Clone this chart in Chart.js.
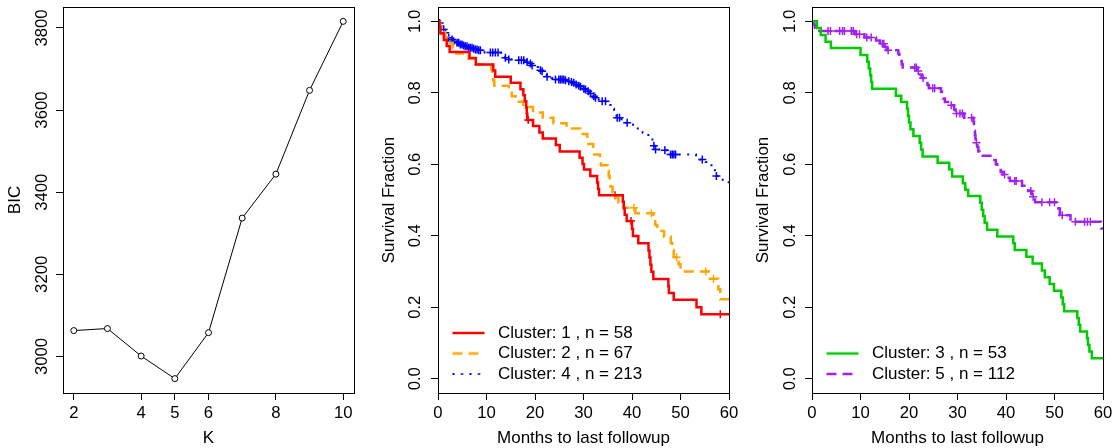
<!DOCTYPE html>
<html lang="en">

<head>
    <meta charset="UTF-8">
    <title>BIC and survival by cluster</title>
    <script src="https://cdn.jsdelivr.net/npm/chart.js"></script>
    <style>
        body { margin: 0; width: 1118px; height: 448px; overflow: hidden; background: #fff; position: relative; }
        canvas { position: absolute; top: 0; }
    </style>
</head>

<body>
    <canvas id="bicChart" width="372" height="460" style="left:0px"></canvas>
    <canvas id="survChartA" width="372" height="460" style="left:372px"></canvas>
    <canvas id="survChartB" width="374" height="460" style="left:744px"></canvas>
    <script>
        // panel 1: BIC for each number of clusters
        const kValues = [2, 3, 4, 5, 6, 7, 8, 9, 10];
        const bicValues = [3063, 3068, 3001, 2946, 3058, 3337, 3444, 3648, 3816];
        const kTicks = [2, 4, 5, 6, 8, 10];
        const bicTicks = [3000, 3200, 3400, 3600, 3800];

        // survival curves: month of each drop and the fraction after it
        const c1Time = [0, 0.3, 0.5, 1.2, 1.8, 2.4, 6.5, 7.8, 11.4, 11.8, 15.0, 17.0, 17.6, 17.9, 18.2, 18.3, 18.4, 19.6, 20.9, 21.6, 24.3, 25.1, 29.2, 29.8, 30.1, 31.4, 32.8, 33.0, 33.2, 38.1, 38.3, 38.5, 38.9, 40.0, 40.2, 41.3, 43.4, 43.6, 43.8, 44.0, 44.4, 47.5, 47.6, 48.6, 53.3, 54.3, 60];
        const c1Surv = [1, 0.983, 0.966, 0.948, 0.931, 0.914, 0.897, 0.879, 0.862, 0.845, 0.828, 0.810, 0.793, 0.776, 0.759, 0.741, 0.724, 0.707, 0.689, 0.672, 0.654, 0.636, 0.618, 0.601, 0.585, 0.567, 0.549, 0.531, 0.513, 0.495, 0.477, 0.459, 0.441, 0.419, 0.399, 0.379, 0.359, 0.339, 0.319, 0.299, 0.279, 0.259, 0.240, 0.221, 0.200, 0.180, 0.180];
        const c1CensTime = [18.6, 36.5, 39.8, 58.2];
        const c1CensSurv = [0.724, 0.513, 0.441, 0.180];

        const c2Time = [0, 0.4, 0.8, 1.5, 2.0, 3.0, 3.8, 6.3, 7.7, 11.0, 11.2, 11.4, 11.6, 14.6, 15.2, 16.0, 17.6, 19.6, 21.6, 23.8, 26.5, 29.3, 30.8, 31.0, 32.0, 32.2, 33.4, 33.6, 35.0, 35.2, 35.4, 35.6, 36.0, 36.6, 37.2, 38.3, 40.7, 44.4, 44.8, 45.2, 46.6, 48.0, 48.3, 48.6, 49.6, 50.0, 55.8, 57.8, 58.2, 60];
        const c2Surv = [1, 0.985, 0.970, 0.955, 0.940, 0.925, 0.910, 0.895, 0.880, 0.865, 0.850, 0.835, 0.820, 0.805, 0.790, 0.775, 0.760, 0.745, 0.730, 0.715, 0.700, 0.685, 0.671, 0.657, 0.642, 0.627, 0.612, 0.597, 0.582, 0.567, 0.552, 0.537, 0.522, 0.507, 0.492, 0.478, 0.463, 0.446, 0.430, 0.413, 0.397, 0.380, 0.360, 0.340, 0.320, 0.300, 0.280, 0.250, 0.222, 0.222];
        const c2CensTime = [40.4, 44.0, 49.2, 55.2, 56.8];
        const c2CensSurv = [0.478, 0.463, 0.340, 0.300, 0.280];

        const c4Time = [0, 0.2, 0.7, 1.0, 1.3, 1.4, 1.8, 2.0, 2.1, 2.6, 3.1, 3.6, 4.4, 5.1, 5.5, 6.2, 7.2, 7.5, 8.2, 9.6, 13.0, 13.6, 13.8, 14.3, 15.8, 18.0, 18.8, 19.3, 20.0, 20.6, 21.0, 21.3, 21.8, 22.2, 22.4, 23.4, 24.0, 26.1, 26.6, 27.3, 27.8, 28.3, 28.8, 29.2, 29.7, 29.9, 30.3, 30.7, 31.2, 31.8, 32.0, 32.3, 32.8, 33.4, 34.8, 35.2, 35.6, 36.0, 36.3, 36.6, 36.8, 36.9, 37.8, 38.4, 38.8, 39.6, 40.2, 40.8, 41.4, 42.2, 43.0, 43.6, 44.2, 44.4, 44.7, 44.8, 46.5, 47.6, 47.8, 53.2, 54.0, 55.2, 55.7, 56.6, 57.1, 57.3, 58.0, 59.2, 60];
        const c4Surv = [1, 0.995, 0.986, 0.977, 0.972, 0.968, 0.963, 0.958, 0.954, 0.949, 0.944, 0.940, 0.935, 0.932, 0.930, 0.926, 0.923, 0.921, 0.919, 0.913, 0.908, 0.903, 0.898, 0.893, 0.891, 0.886, 0.882, 0.876, 0.872, 0.867, 0.863, 0.860, 0.855, 0.850, 0.845, 0.841, 0.837, 0.835, 0.832, 0.830, 0.828, 0.823, 0.820, 0.817, 0.814, 0.811, 0.809, 0.804, 0.798, 0.794, 0.790, 0.786, 0.781, 0.776, 0.771, 0.766, 0.760, 0.755, 0.749, 0.742, 0.736, 0.730, 0.726, 0.721, 0.716, 0.711, 0.705, 0.700, 0.694, 0.688, 0.682, 0.676, 0.664, 0.652, 0.646, 0.641, 0.639, 0.633, 0.627, 0.620, 0.613, 0.606, 0.597, 0.587, 0.577, 0.567, 0.557, 0.550, 0.550];
        const c4CensTime = [0.34, 1.17, 1.51, 2.20, 2.89, 3.23, 3.92, 4.27, 4.61, 4.95, 5.30, 5.64, 5.99, 6.33, 6.67, 7.02, 7.36, 7.71, 8.05, 8.39, 8.74, 10.80, 11.28, 11.83, 12.38, 13.90, 14.59, 16.65, 17.20, 17.68, 18.37, 19.06, 19.40, 21.12, 21.47, 22.50, 24.22, 24.91, 25.25, 25.59, 25.94, 26.28, 26.97, 27.52, 28.00, 28.48, 29.03, 29.38, 30.07, 30.41, 30.96, 31.44, 32.13, 32.47, 33.85, 34.54, 36.95, 37.43, 39.01, 44.51, 44.86, 46.78, 47.95, 48.30, 48.64, 48.98, 54.49, 57.40];
        const c4CensSurv = [0.995, 0.977, 0.968, 0.954, 0.949, 0.944, 0.940, 0.940, 0.935, 0.935, 0.932, 0.930, 0.930, 0.926, 0.926, 0.926, 0.923, 0.921, 0.921, 0.919, 0.919, 0.913, 0.913, 0.913, 0.913, 0.898, 0.893, 0.891, 0.891, 0.891, 0.886, 0.882, 0.876, 0.863, 0.860, 0.845, 0.837, 0.837, 0.837, 0.837, 0.837, 0.835, 0.832, 0.830, 0.828, 0.823, 0.820, 0.817, 0.811, 0.809, 0.804, 0.798, 0.790, 0.786, 0.776, 0.776, 0.730, 0.730, 0.716, 0.652, 0.641, 0.639, 0.627, 0.627, 0.627, 0.627, 0.613, 0.567];

        const c3Time = [0, 1.0, 1.8, 2.8, 3.9, 10.0, 11.4, 11.7, 12.0, 12.2, 12.4, 17.3, 18.4, 19.6, 19.8, 20.0, 20.3, 20.9, 22.2, 22.5, 22.8, 25.9, 28.3, 28.9, 31.1, 31.6, 32.2, 34.7, 35.0, 35.3, 35.6, 36.1, 38.2, 41.5, 41.8, 44.2, 45.5, 47.4, 48.0, 49.0, 49.9, 51.4, 51.7, 52.0, 54.7, 55.0, 55.3, 56.7, 56.9, 57.2, 57.7, 60];
        const c3Surv = [1, 0.981, 0.962, 0.943, 0.925, 0.906, 0.887, 0.868, 0.849, 0.830, 0.811, 0.792, 0.774, 0.755, 0.736, 0.717, 0.698, 0.679, 0.660, 0.641, 0.622, 0.604, 0.585, 0.566, 0.547, 0.529, 0.511, 0.492, 0.473, 0.455, 0.436, 0.417, 0.398, 0.379, 0.360, 0.341, 0.322, 0.303, 0.284, 0.265, 0.246, 0.227, 0.208, 0.189, 0.170, 0.151, 0.132, 0.113, 0.094, 0.076, 0.057, 0.057];
        const c3CensTime = [];
        const c3CensSurv = [];

        const c5Time = [0, 0.3, 0.6, 1.5, 8.9, 10.8, 13.2, 14.0, 15.0, 15.4, 17.8, 18.0, 18.2, 18.5, 18.7, 21.7, 22.3, 22.6, 23.4, 23.8, 24.1, 26.6, 26.8, 27.0, 27.4, 28.3, 29.3, 29.6, 31.4, 33.3, 33.4, 33.5, 33.6, 33.7, 33.8, 34.1, 34.3, 34.6, 37.6, 37.9, 38.2, 38.9, 39.3, 40.3, 40.8, 43.3, 44.6, 45.3, 46.0, 50.8, 51.1, 53.3, 59.6, 60];
        const c5Surv = [1, 0.991, 0.982, 0.973, 0.964, 0.955, 0.946, 0.937, 0.928, 0.919, 0.909, 0.899, 0.889, 0.880, 0.871, 0.861, 0.851, 0.841, 0.832, 0.822, 0.813, 0.803, 0.793, 0.784, 0.774, 0.765, 0.753, 0.742, 0.730, 0.718, 0.706, 0.694, 0.682, 0.670, 0.660, 0.648, 0.636, 0.624, 0.612, 0.600, 0.588, 0.579, 0.571, 0.562, 0.553, 0.540, 0.525, 0.509, 0.494, 0.476, 0.457, 0.439, 0.420, 0.420];
        const c5CensTime = [3.3, 3.8, 5.7, 6.3, 6.7, 8.1, 8.5, 9.2, 9.8, 11.3, 12.2, 14.5, 14.8, 15.7, 21.2, 21.5, 21.9, 22.9, 24.9, 25.3, 28.7, 29.8, 30.5, 31.0, 32.9, 33.9, 39.7, 41.8, 42.1, 45.1, 45.6, 47.4, 49.0, 50.0, 51.6, 54.3, 56.2, 56.8, 57.4];
        const c5CensSurv = [0.973, 0.973, 0.973, 0.973, 0.973, 0.973, 0.973, 0.964, 0.964, 0.955, 0.955, 0.937, 0.937, 0.919, 0.871, 0.871, 0.861, 0.841, 0.813, 0.813, 0.765, 0.742, 0.742, 0.742, 0.730, 0.660, 0.571, 0.553, 0.553, 0.525, 0.509, 0.494, 0.494, 0.494, 0.457, 0.439, 0.439, 0.439, 0.439];

        const monthTicks = [0, 10, 20, 30, 40, 50, 60];
        const survTicks = [0, 0.2, 0.4, 0.6, 0.8, 1];

        Chart.defaults.font.family = "'Liberation Sans', Arial, sans-serif";
        Chart.defaults.color = '#000';

        const pts = (xs, ys) => xs.map((x, i) => ({ x: x, y: ys[i] }));

        // R-style box round the plot region
        const boxPlugin = {
            id: 'plotBox',
            afterDraw(chart) {
                const { ctx, chartArea: a } = chart;
                const l = Math.round(a.left) + 0.5, t = Math.round(a.top) + 0.5;
                const r = Math.round(a.right) + 0.5, b = Math.round(a.bottom) + 0.5;
                ctx.save();
                ctx.strokeStyle = '#000';
                ctx.lineWidth = 1;
                ctx.strokeRect(l, t, r - l, b - t);
                ctx.restore();
            }
        };

        // axis boxes get a fixed size so the plot regions line up
        function fixSize(size) {
            return function (scale) {
                if (scale.isHorizontal()) scale.height = size; else scale.width = size;
                scale.paddingTop = scale.paddingBottom = scale.paddingLeft = scale.paddingRight = 0;
            };
        }

        function xAxis(min, max, ticks, title) {
            return {
                type: 'linear', min: min, max: max,
                afterBuildTicks: s => { s.ticks = ticks.map(v => ({ value: v })); },
                afterFit: fixSize(67),
                border: { display: false },
                grid: { drawOnChartArea: false, drawTicks: true, tickLength: 7, color: '#000', lineWidth: 1 },
                ticks: { padding: 3, font: { size: 16.7 }, color: '#000', maxRotation: 0, autoSkip: false, callback: v => String(v) },
                title: { display: true, text: title, font: { size: 17 }, color: '#000', padding: { top: 0, bottom: 11.3 } }
            };
        }

        function yAxis(min, max, ticks, fmt, title, width, tickPad, titlePad) {
            return {
                type: 'linear', min: min, max: max,
                afterBuildTicks: s => { s.ticks = ticks.map(v => ({ value: v })); },
                afterFit: fixSize(width),
                border: { display: false },
                grid: { drawOnChartArea: false, drawTicks: true, tickLength: 7, color: '#000', lineWidth: 1 },
                ticks: { padding: tickPad, font: { size: 16.7 }, color: '#000', minRotation: 90, maxRotation: 90, crossAlign: 'center', autoSkip: false, callback: fmt },
                title: { display: true, text: title, font: { size: 17 }, color: '#000', padding: { top: titlePad, bottom: 0 } }
            };
        }

        function legendSample(color, dash, width) {
            const c = document.createElement('canvas');
            c.width = 48;
            c.height = 6;
            const g = c.getContext('2d');
            g.strokeStyle = color;
            g.lineWidth = width;
            g.setLineDash(dash);
            g.beginPath();
            g.moveTo(11, 3);
            g.lineTo(43, 3);
            g.stroke();
            return c;
        }

        const baseOptions = {
            responsive: false,
            animation: false,
            devicePixelRatio: 1,
            events: []
        };

        new Chart(document.getElementById('bicChart'), {
            type: 'line',
            data: {
                datasets: [{
                    label: 'BIC',
                    data: pts(kValues, bicValues),
                    borderColor: '#000',
                    borderWidth: 1,
                    pointStyle: 'circle',
                    pointRadius: 3,
                    pointBorderWidth: 1,
                    pointBorderColor: '#000',
                    pointBackgroundColor: '#fff'
                }]
            },
            options: Object.assign({}, baseOptions, {
                layout: { padding: { left: 0, top: 7, right: 18, bottom: 0 } },
                scales: {
                    x: xAxis(1.68, 10.32, kTicks, 'K'),
                    y: yAxis(2911, 3851, bicTicks, v => String(v), 'BIC', 63, -4.8, 5.6)
                },
                plugins: { legend: { display: false }, tooltip: { enabled: false } }
            }),
            plugins: [boxPlugin]
        });

        function survChart(id, rightPad, yWidth, tickPad, titlePad, curves) {
            const datasets = [];
            curves.forEach(c => {
                datasets.push({
                    label: c.label,
                    data: pts(c.time, c.surv),
                    stepped: true,
                    borderColor: c.color,
                    borderWidth: c.width,
                    borderDash: c.dash,
                    borderCapStyle: 'butt',
                    pointRadius: 0,
                    sample: legendSample(c.color, c.dash, c.width)
                });
            });
            curves.forEach(c => {
                datasets.push({
                    label: c.label + ' (censored)',
                    data: pts(c.censTime, c.censSurv),
                    showLine: false,
                    pointStyle: 'cross',
                    pointRadius: 4,
                    pointBorderWidth: 1.5,
                    pointBorderColor: c.color
                });
            });
            return new Chart(document.getElementById(id), {
                type: 'line',
                data: { datasets: datasets },
                options: Object.assign({}, baseOptions, {
                    layout: { padding: { left: 0, top: 7, right: rightPad, bottom: 0 } },
                    scales: {
                        x: xAxis(0, 60, monthTicks, 'Months to last followup'),
                        y: yAxis(-0.04, 1.04, survTicks, v => v.toFixed(1), 'Survival Fraction', yWidth, tickPad, titlePad)
                    },
                    plugins: {
                        tooltip: { enabled: false },
                        legend: {
                            position: 'chartArea',
                            align: 'end',
                            labels: {
                                usePointStyle: true,
                                pointStyleWidth: 48,
                                padding: 3.5,
                                font: { size: 17 },
                                color: '#000',
                                generateLabels: chart => chart.data.datasets
                                    .map((d, i) => ({ d: d, i: i }))
                                    .filter(o => o.d.sample)
                                    .map(o => ({
                                        text: o.d.label,
                                        pointStyle: o.d.sample,
                                        datasetIndex: o.i,
                                        fontColor: '#000',
                                        lineWidth: 0,
                                        strokeStyle: 'rgba(0,0,0,0)',
                                        fillStyle: 'rgba(0,0,0,0)',
                                        hidden: false
                                    }))
                            }
                        }
                    }
                }),
                plugins: [boxPlugin]
            });
        }

        survChart('survChartA', 15, 66, 4, 6.8, [
            { label: 'Cluster: 1 , n = 58', time: c1Time, surv: c1Surv, censTime: c1CensTime, censSurv: c1CensSurv, color: '#FF0000', dash: [], width: 2.5 },
            { label: 'Cluster: 2 , n = 67', time: c2Time, surv: c2Surv, censTime: c2CensTime, censSurv: c2CensSurv, color: '#FFA500', dash: [10, 6], width: 2.5 },
            { label: 'Cluster: 4 , n = 213', time: c4Time, surv: c4Surv, censTime: c4CensTime, censSurv: c4CensSurv, color: '#0000FF', dash: [2, 6.5], width: 2 }
        ]);

        survChart('survChartB', 15, 68, 3, 9.1, [
            { label: 'Cluster: 3 , n = 53', time: c3Time, surv: c3Surv, censTime: c3CensTime, censSurv: c3CensSurv, color: '#00CD00', dash: [], width: 2.5 },
            { label: 'Cluster: 5 , n = 112', time: c5Time, surv: c5Surv, censTime: c5CensTime, censSurv: c5CensSurv, color: '#A020F0', dash: [10, 6], width: 2.5 }
        ]);
    </script>
</body>

</html>
